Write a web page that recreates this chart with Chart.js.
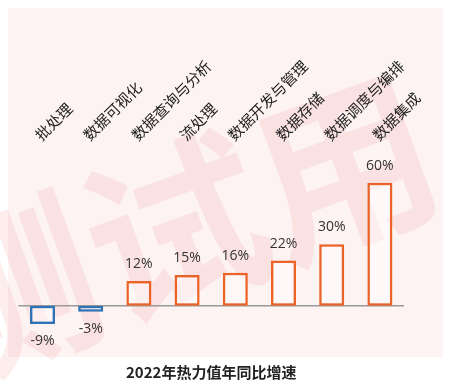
<!DOCTYPE html>
<html>
<head>
<meta charset="utf-8">
<script src="https://cdn.jsdelivr.net/npm/chart.js@4.4.1/dist/chart.umd.min.js"></script>
<style>
  html, body { margin: 0; padding: 0; background: #fff; }
  #wrap { width: 468px; height: 390px; }
</style>
</head>
<body>
<div id="wrap"><canvas id="canvas" width="468" height="390"></canvas></div>
<script>
// data
const categories = ['批处理', '数据可视化', '数据查询与分析', '流处理', '数据开发与管理', '数据存储', '数据调度与编排', '数据集成'];
const growth = [-9, -3, 12, 15, 16, 22, 30, 60];
const chartTitle = '2022年热力值年同比增速';
const watermark = '测试用';

const orange = '#ec6327';
const blue = '#2f72b6';

// pink panel + watermark behind the bars
const backdrop = {
    id: 'backdrop',
    beforeDraw(chart) {
        const c = chart.ctx;
        c.save();
        c.fillStyle = '#fdf3f3';
        c.fillRect(8, 8, 435, 349);
        c.translate(175, 228);
        c.rotate(-20 * Math.PI / 180);
        c.font = 'bold 180px "Noto Sans CJK SC"';
        c.fillStyle = 'rgba(236, 95, 95, 0.11)';
        c.textAlign = 'center';
        c.textBaseline = 'middle';
        c.fillText(watermark, 0, 0);
        c.restore();
    }
};

// zero line + value labels
const valueLabels = {
    id: 'valueLabels',
    beforeDatasetsDraw(chart) {
        const c = chart.ctx, y0 = chart.scales.y.getPixelForValue(0);
        const { left, right } = chart.chartArea;
        c.save();
        c.strokeStyle = '#9a9a9a';
        c.lineWidth = 1.5;
        c.beginPath();
        c.moveTo(left, y0);
        c.lineTo(right, y0);
        c.stroke();
        c.restore();
    },
    afterDatasetsDraw(chart) {
        const c = chart.ctx;
        const meta = chart.getDatasetMeta(0);
        c.save();
        c.font = '14px "Open Sans"';
        c.fillStyle = '#333';
        c.textAlign = 'center';
        c.textBaseline = 'middle';
        meta.data.forEach((bar, i) => {
            const v = growth[i];
            const y = v >= 0 ? bar.y - 17 : bar.y + 17;
            c.fillText(v + '%', bar.x, y);
        });
        c.restore();
    }
};

Chart.defaults.font.family = '"Noto Sans CJK SC", "Noto Sans", sans-serif';

new Chart(document.getElementById('canvas').getContext('2d'), {
    type: 'bar',
    data: {
        labels: categories,
        datasets: [{
            data: growth,
            backgroundColor: 'rgba(255,255,255,0.45)',
            borderColor: growth.map(v => v < 0 ? blue : orange),
            borderWidth: 2.5,
            borderSkipped: false,
            barPercentage: 0.65,
            categoryPercentage: 0.8
        }]
    },
    options: {
        responsive: false,
        animation: false,
        layout: { padding: { top: 54, left: 18.4, right: 64, bottom: 8 } },
        plugins: {
            legend: { display: false },
            tooltip: { enabled: false },
            title: {
                display: true,
                text: chartTitle,
                position: 'bottom',
                fullSize: false,
                color: '#222',
                font: { size: 15, weight: 'bold' },
                padding: { top: 11, bottom: 1 }
            }
        },
        scales: {
            x: {
                position: 'top',
                grid: { display: false, drawTicks: false },
                border: { display: false },
                ticks: {
                    autoSkip: false,
                    minRotation: 45,
                    maxRotation: 45,
                    labelOffset: 8,
                    padding: 3,
                    color: '#222',
                    font: { size: 15 }
                }
            },
            y: {
                display: false,
                min: -22.6,
                max: 77.4
            }
        }
    },
    plugins: [backdrop, valueLabels]
});
</script>
</body>
</html>
